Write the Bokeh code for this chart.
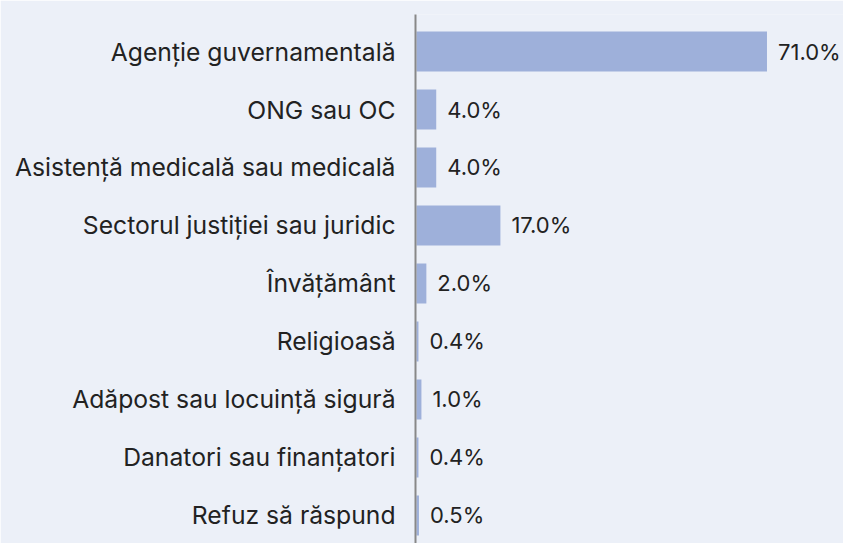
from bokeh.plotting import figure
from bokeh.models import Range1d, FixedTicker, ColumnDataSource
from bokeh.core.properties import value
from bokeh.embed import file_html
from bokeh.resources import INLINE

categories = [
    "Agenție guvernamentală",
    "ONG sau OC",
    "Asistență medicală sau medicală",
    "Sectorul justiției sau juridic",
    "Învățământ",
    "Religioasă",
    "Adăpost sau locuință sigură",
    "Danatori sau finanțatori",
    "Refuz să răspund",
]
values = [71.0, 4.0, 4.0, 17.0, 2.0, 0.4, 1.0, 0.4, 0.5]
labels = [f"{v:.1f}%" for v in values]

BG = "#ecf0f8"
BAR = "#9eb0da"
FONT = "Inter"

ypos = list(range(len(categories)))
src = ColumnDataSource(dict(y=ypos, v=values, lab=labels))

p = figure(width=843, height=543, output_backend="svg", toolbar_location=None,
           x_range=Range1d(-0.2, 86.5), y_range=Range1d(8.483, -0.638),
           min_border_left=415, min_border_right=0, min_border_top=14, min_border_bottom=0,
           background_fill_color=BG, border_fill_color=BG, outline_line_color=None)

p.hbar(y="y", left=0, right="v", height=0.69, source=src, color=BAR, line_color=None)
p.text(x="v", y="y", text="lab", source=src, x_offset=11, text_align="left",
       text_baseline="middle", text_font=value(FONT), text_font_size="22px",
       text_color="#222222")

p.xaxis.visible = False
p.xgrid.visible = False
p.ygrid.visible = False

ax = p.yaxis[0]
ax.ticker = FixedTicker(ticks=ypos)
ax.major_label_overrides = {i: c for i, c in enumerate(categories)}
ax.major_label_text_font = FONT
ax.major_label_text_font_size = "24.7px"
ax.major_label_text_color = "#222222"
ax.major_label_standoff = 14
ax.major_tick_line_color = None
ax.minor_tick_line_color = None
ax.axis_line_color = "#888888"
ax.axis_line_width = 2

open("out.html", "w").write(file_html(p, INLINE))
